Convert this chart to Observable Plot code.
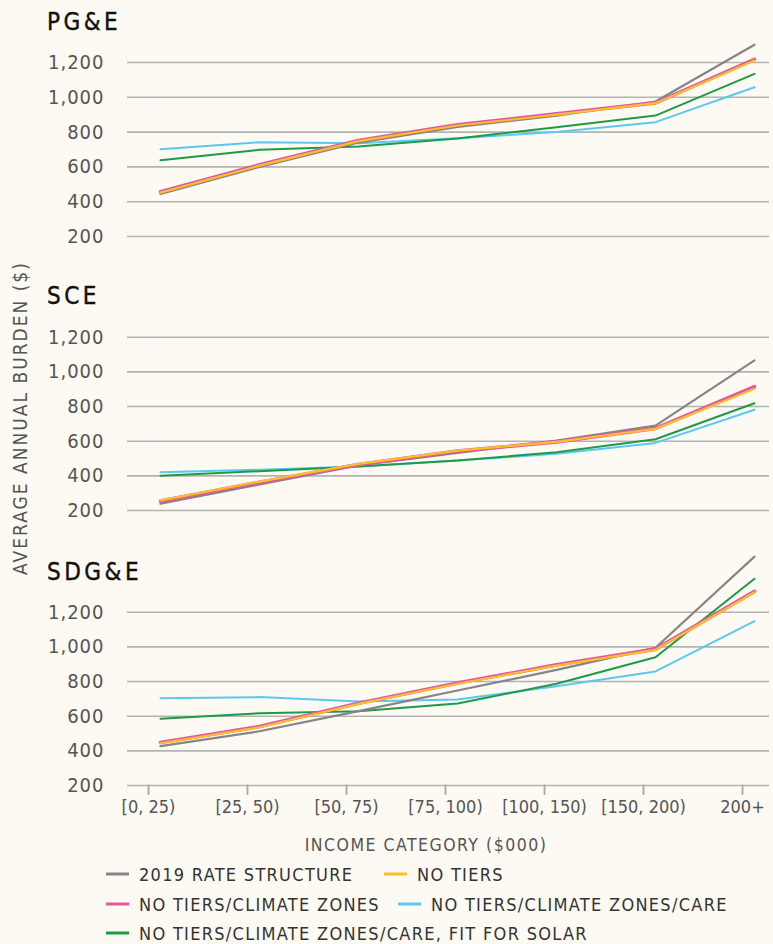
<!DOCTYPE html>
<html><head><meta charset="utf-8">
<script src="https://cdn.jsdelivr.net/npm/d3@7"></script>
<script src="https://cdn.jsdelivr.net/npm/@observablehq/plot@0.6"></script>
<style>
html,body{margin:0;padding:0;background:#fcfaf2;}
#wrap{position:relative;width:773px;height:944px;background:#fcfaf2;font-family:"DejaVu Sans Condensed","DejaVu Sans",sans-serif;overflow:hidden;}
.panel{position:absolute;left:0;}
.panel g[aria-label="y-axis tick label"] text{letter-spacing:1px;}
.ptitle{position:absolute;left:47px;font-size:24px;letter-spacing:3.5px;color:#111;line-height:1;-webkit-text-stroke:0.4px #111;}
.ytitle{position:absolute;left:20px;top:418px;transform:translate(-50%,-50%) rotate(-90deg);white-space:nowrap;font-size:19px;letter-spacing:2px;color:#555;}
.xtitle{position:absolute;left:426px;top:845px;transform:translate(-50%,-50%);white-space:nowrap;font-size:17.5px;letter-spacing:1.5px;color:#555;}
.leg{position:absolute;display:flex;align-items:center;white-space:nowrap;font-size:18px;letter-spacing:1.3px;color:#333;transform:translateY(-50%);}
.sw{display:inline-block;width:23px;height:3px;margin-right:10px;}
</style>
</head><body>
<div id="wrap"></div>
<script>
const categories = ["[0, 25)", "[25, 50)", "[50, 75)", "[75, 100)", "[100, 150)", "[150, 200)", "200+"];
const seriesNames = ["2019 RATE STRUCTURE", "NO TIERS", "NO TIERS/CLIMATE ZONES", "NO TIERS/CLIMATE ZONES/CARE", "NO TIERS/CLIMATE ZONES/CARE, FIT FOR SOLAR"];
const seriesColors = ["#858585", "#f9bf2c", "#e8559b", "#5cc8f2", "#1f9a48"];
const yTicks = [200, 400, 600, 800, 1000, 1200];
const utilities = ["PG&E", "SCE", "SDG&E"];

// PG&E
const pge_2019     = [445, 600, 740, 830, 895, 976, 1302];
const pge_noTiers  = [452, 607, 748, 838, 900, 966, 1212];
const pge_climate  = [457, 612, 752, 842, 905, 968, 1218];
const pge_care     = [702, 742, 736, 765, 800, 857, 1058];
const pge_solar    = [638, 698, 717, 763, 828, 895, 1135];
// SCE
const sce_2019     = [239, 350, 460, 532, 604, 690, 1066];
const sce_noTiers  = [258, 367, 469, 546, 596, 671, 902];
const sce_climate  = [254, 363, 465, 543, 596, 674, 915];
const sce_care     = [421, 435, 454, 488, 527, 590, 781];
const sce_solar    = [400, 427, 454, 488, 536, 611, 819];
// SDG&E
const sdge_2019    = [427, 513, 629, 748, 867, 995, 1521];
const sdge_noTiers = [444, 536, 671, 787, 892, 983, 1315];
const sdge_climate = [448, 540, 675, 791, 896, 987, 1320];
const sdge_care    = [704, 710, 685, 696, 773, 858, 1148];
const sdge_solar   = [585, 617, 629, 673, 787, 940, 1393];

const panelSeries = [
  [pge_2019, pge_noTiers, pge_climate, pge_care, pge_solar],
  [sce_2019, sce_noTiers, sce_climate, sce_care, sce_solar],
  [sdge_2019, sdge_noTiers, sdge_climate, sdge_care, sdge_solar]
];

const wrap = document.getElementById("wrap");
const layout = [
  {top: 0,   height: 250, yr: [236, 62],   titleTop: 10},
  {top: 270, height: 250, yr: [240, 66.7], titleTop: 284},
  {top: 540, height: 300, yr: [245, 71.7], titleTop: 560}
];
// draw order: blue, green, gray, pink, yellow
const order = [3, 4, 0, 2, 1];
const widths = [2.2, 2.2, 3.6, 2, 2];
const tickLen = 50; // tick length below the baseline, in value units

utilities.forEach((u, p) => {
  const L = layout[p];
  const marks = [
    Plot.ruleY(yTicks, {stroke: "#b3b3b3", strokeWidth: 1.6}),
    Plot.axisY(yTicks, {tickSize: 0, tickPadding: 23, tickFormat: d3.format(","), fontSize: 20, fill: "#555", label: null})
  ];
  if (p === 2) {
    const tickRows = categories.flatMap(c => [{cat: c, v: yTicks[0]}, {cat: c, v: yTicks[0] - tickLen}]);
    marks.push(Plot.line(tickRows, {x: "cat", y: "v", z: "cat", stroke: "#a8a8a8", strokeWidth: 1.8}));
    marks.push(Plot.axisX({anchor: "bottom", tickSize: 0, tickPadding: 15, fill: "#555", fontSize: 18, label: null}));
  }
  order.forEach(si => {
    const rows = categories.map((c, i) => ({cat: c, v: panelSeries[p][si][i]}));
    marks.push(Plot.line(rows, {x: "cat", y: "v", stroke: seriesColors[si], strokeWidth: widths[si], dx: 12}));
  });
  const chart = Plot.plot({
    width: 773, height: L.height,
    marginLeft: 127, marginRight: 4, marginTop: 0,
    marginBottom: L.height - L.yr[0],
    x: {type: "point", domain: categories, range: [148, 742], padding: 0, axis: null},
    y: {domain: [200, 1200], range: L.yr, axis: null},
    style: {background: "transparent", fontFamily: "'DejaVu Sans Condensed','DejaVu Sans',sans-serif", overflow: "visible"},
    marks
  });
  chart.classList.add("panel");
  chart.style.top = L.top + "px";
  wrap.appendChild(chart);
  const t = document.createElement("div");
  t.className = "ptitle";
  t.style.top = L.titleTop + "px";
  t.textContent = u;
  wrap.appendChild(t);
});

const yt = document.createElement("div");
yt.className = "ytitle"; yt.textContent = "AVERAGE ANNUAL BURDEN ($)";
wrap.appendChild(yt);
const xt = document.createElement("div");
xt.className = "xtitle"; xt.textContent = "INCOME CATEGORY ($000)";
wrap.appendChild(xt);

const legendPos = [[106, 874], [384, 874], [106, 904], [398, 904], [106, 933]];
seriesNames.forEach((n, i) => {
  const d = document.createElement("div");
  d.className = "leg";
  d.style.left = legendPos[i][0] + "px";
  d.style.top = legendPos[i][1] + "px";
  d.innerHTML = `<span class="sw" style="background:${seriesColors[i]}"></span><span></span>`;
  d.lastChild.textContent = n;
  wrap.appendChild(d);
});
</script>
</body></html>
